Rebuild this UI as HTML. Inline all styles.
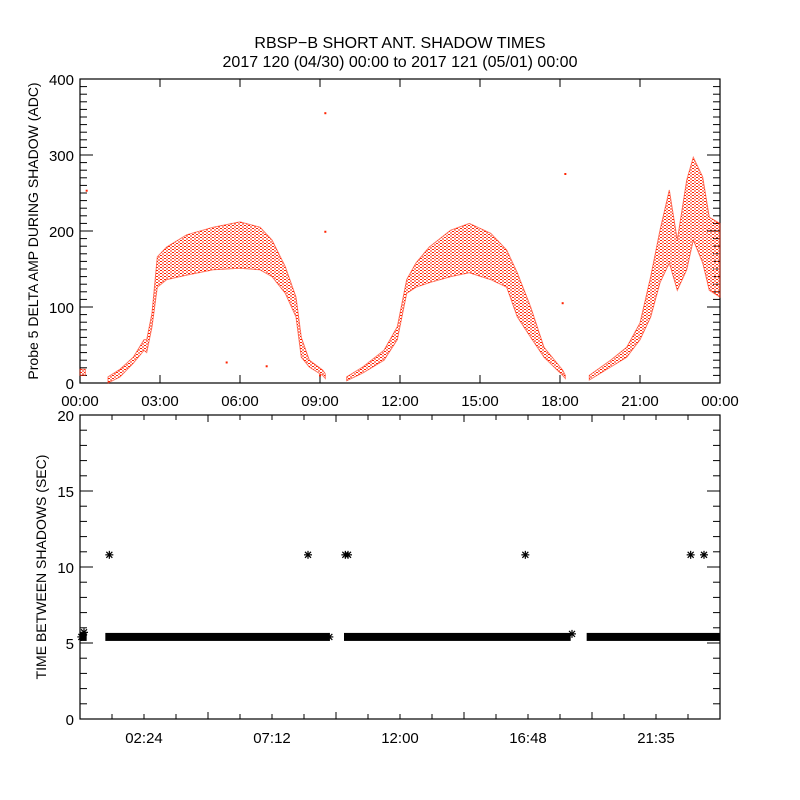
<!DOCTYPE html>
<html><head><meta charset="utf-8">
<style>
html,body{margin:0;padding:0;background:#fff;}
svg{display:block;font-family:"Liberation Sans","DejaVu Sans",sans-serif;}
</style></head>
<body>
<svg id="chart" width="800" height="800" viewBox="0 0 800 800" xmlns="http://www.w3.org/2000/svg">
<defs>
<pattern id="dots" width="4" height="3" patternUnits="userSpaceOnUse">
<rect x="0" y="0" width="2" height="1" fill="#ff2200"/>
<rect x="2" y="1.5" width="2" height="1" fill="#ff2200"/>
</pattern>
</defs>
<rect width="800" height="800" fill="#fff"/>
<text x="400" y="48" font-size="16" text-anchor="middle">RBSP−B SHORT ANT. SHADOW TIMES</text>
<text x="400" y="67" font-size="16" text-anchor="middle">2017 120 (04/30) 00:00 to 2017 121 (05/01) 00:00</text>
<g id="topPanel"></g>
<g id="botPanel"></g>
</svg>
<script>
// ---- Top panel data: band envelopes (hours, lower, upper) per shadow segment ----
const seg1Hours = [1.05,1.5,2.0,2.4,2.5,2.7,2.9,3.25,4.0,5.0,6.0,6.75,7.2,7.7,8.1,8.3,8.6,9.1,9.2];
const seg1Low   = [0,8,26,43,40,74,126,136,142,149,151,149,140,118,87,34,21,10,6];
const seg1High  = [8,18,34,57,57,92,166,179,195,205,212,205,188,153,113,60,30,17,12];
const seg2Hours = [10.0,10.6,11.4,11.9,12.25,12.6,13.1,13.9,14.6,15.4,16.0,16.4,16.9,17.4,18.1,18.2];
const seg2Low   = [3,13,30,57,118,126,132,140,145,136,126,87,60,34,10,6];
const seg2High  = [8,21,43,74,136,158,179,201,210,197,175,145,100,47,17,10];
const seg3Hours = [19.1,19.9,20.5,21.0,21.4,21.75,22.1,22.4,22.75,23.0,23.35,23.6,24.0];
const seg3Low   = [4,21,34,57,87,132,158,122,149,188,158,122,113];
const seg3High  = [10,30,47,79,140,201,254,188,267,297,271,218,210];
const blobHours = [0.0,0.2];
const blobLow   = [10,10];
const blobHigh  = [18,18];
const outlierHours = [0.25,9.2,9.2,18.2,5.5,9.0,18.1,7.0];
const outlierValues = [253,355,199,275,27,10,105,22];
const topYTicks = [0,100,200,300,400];
const topXTickLabels = ["00:00","03:00","06:00","09:00","12:00","15:00","18:00","21:00","00:00"];
// ---- Bottom panel data ----
const baseSegStart = [0.0,0.95,9.9,19.0];
const baseSegEnd   = [0.25,9.35,18.4,24.0];
const baseValue = [5.4,5.4,5.4,5.4];
const highHours = [1.1,8.55,9.95,10.05,16.7,22.9,23.4];
const highValues = [10.8,10.8,10.8,10.8,10.8,10.8,10.8];
const extraHours = [0.15,9.35,18.45,0.05];
const extraValues = [5.7,5.4,5.6,5.4];
const botYTicks = [0,5,10,15,20];
const botXTickLabels = ["02:24","07:12","12:00","16:48","21:35"];

const NS="http://www.w3.org/2000/svg";
const X0=80,X1=720;
const tY0=383,tY1=79, bY0=719,bY1=415;
const xs=h=>X0+(X1-X0)*h/24;
const ty=v=>tY0-(tY0-tY1)*v/400;
const by=v=>bY0-(bY0-bY1)*v/20;
function mk(tag,attrs,parent){const e=document.createElementNS(NS,tag);for(const k in attrs)e.setAttribute(k,attrs[k]);parent.appendChild(e);return e;}
const topG=document.getElementById('topPanel'), botG=document.getElementById('botPanel');

function axes(g,y0,y1,prefix){
  const r=mk('rect',{x:X0,y:y1,width:X1-X0,height:y0-y1,fill:'none',stroke:'#000','stroke-width':1.2},g);
  
  
}
// ---- Top panel ----
axes(topG,tY0,tY1,'top');
let tk=mk('g',{},topG);


for(let v=0;v<=400;v+=10){
  const y=ty(v), len=(v%100===0)?13:7;
  mk('line',{x1:X0,x2:X0+len,y1:y,y2:y,stroke:'#000'},tk);
  mk('line',{x1:X1,x2:X1-len,y1:y,y2:y,stroke:'#000'},tk);
}
topYTicks.forEach(v=>{
  const t=mk('text',{x:X0-6,y:ty(v)+6,'font-size':15,'text-anchor':'end'},topG);
  t.textContent=v;
  
  
});
topXTickLabels.forEach((s,i)=>{
  const h=i*3,x=xs(h);
  mk('line',{x1:x,x2:x,y1:tY0,y2:tY0-8,stroke:'#000'},tk);
  mk('line',{x1:x,x2:x,y1:tY1,y2:tY1+8,stroke:'#000'},tk);
  const t=mk('text',{x:x,y:406,'font-size':15,'text-anchor':'middle'},topG);
  t.textContent=s;
  
  
});
let yt=mk('text',{x:0,y:0,'font-size':14,'text-anchor':'middle',transform:'translate(38,231) rotate(-90)'},topG);
yt.textContent='Probe 5 DELTA AMP DURING SHADOW (ADC)';



function band(hours,low,high,name){
  let d='';
  hours.forEach((h,i)=>{d+=(i?'L':'M')+xs(h).toFixed(1)+' '+ty(high[i]).toFixed(1);});
  for(let i=hours.length-1;i>=0;i--)d+='L'+xs(hours[i]).toFixed(1)+' '+ty(low[i]).toFixed(1);
  d+='Z';
  const p=mk('path',{d:d,fill:'url(#dots)',stroke:'#ff2200','stroke-width':1,'stroke-opacity':0.6},topG);
  
  
}
band(blobHours,blobLow,blobHigh,'amplitude-band-start');
band(seg1Hours,seg1Low,seg1High,'amplitude-band-shadow-1');
band(seg2Hours,seg2Low,seg2High,'amplitude-band-shadow-2');
band(seg3Hours,seg3Low,seg3High,'amplitude-band-shadow-3');
outlierHours.forEach((h,i)=>{
  const r=mk('rect',{x:xs(h)-1,y:ty(outlierValues[i])-1,width:2,height:2,fill:'#ff2200'},topG);
  
  
});

// ---- Bottom panel ----
axes(botG,bY0,bY1,'bottom');
let bk=mk('g',{},botG);


for(let v=0;v<=20;v+=1){
  const y=by(v), len=(v%5===0)?13:7;
  mk('line',{x1:X0,x2:X0+len,y1:y,y2:y,stroke:'#000'},bk);
  mk('line',{x1:X1,x2:X1-len,y1:y,y2:y,stroke:'#000'},bk);
}
botYTicks.forEach(v=>{
  const t=mk('text',{x:X0-6,y:by(v)+6,'font-size':15,'text-anchor':'end'},botG);
  t.textContent=v;
  
  
});
for(let k=1;k<20;k++){
  const x=xs(k*1.2), len=(k%4===0)?7:5;
  mk('line',{x1:x,x2:x,y1:bY0,y2:bY0-len,stroke:'#000'},bk);
  mk('line',{x1:x,x2:x,y1:bY1,y2:bY1+len,stroke:'#000'},bk);
}
botXTickLabels.forEach((s,i)=>{
  const t=mk('text',{x:xs((i*4+2)*1.2),y:743,'font-size':15,'text-anchor':'middle'},botG);
  t.textContent=s;
  
  
});
let yt2=mk('text',{x:0,y:0,'font-size':14,'text-anchor':'middle',transform:'translate(46,567) rotate(-90)'},botG);
yt2.textContent='TIME BETWEEN SHADOWS (SEC)';



baseSegStart.forEach((h,i)=>{
  const r=mk('rect',{x:xs(h),y:by(baseValue[i])-4,width:xs(baseSegEnd[i])-xs(h),height:8,fill:'#000'},botG);
  
  
});
function star(x,y,name){
  const g=mk('g',{stroke:'#000','stroke-width':1.2},botG);
  
  
  mk('line',{x1:x-4,x2:x+4,y1:y,y2:y},g);
  mk('line',{x1:x,x2:x,y1:y-4,y2:y+4},g);
  mk('line',{x1:x-3,x2:x+3,y1:y-3,y2:y+3},g);
  mk('line',{x1:x-3,x2:x+3,y1:y+3,y2:y-3},g);
}
highHours.forEach((h,i)=>star(xs(h),by(highValues[i]),'interval-point-high'));
extraHours.forEach((h,i)=>star(xs(h),by(extraValues[i]),'interval-point'));
</script>
</body></html>
